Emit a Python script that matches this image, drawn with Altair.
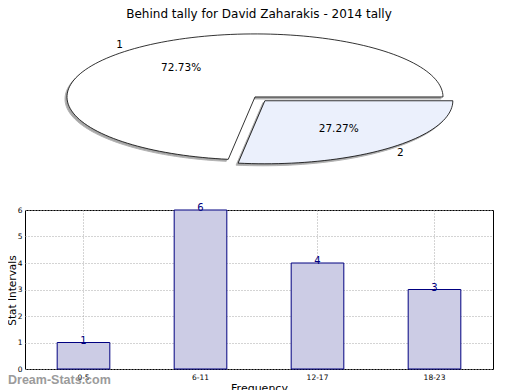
import math
import altair as alt
import pandas as pd
import numpy as np

# ---------------- data ----------------
chart_title = "Behind tally for David Zaharakis - 2014 tally"

pie_labels = ["1", "2"]
pie_values = [8, 3]
pie_fills = ["#ffffff", "#ebf0fc"]
pie_explode = [0.0, 0.08]

bar_categories = ["0-5", "6-11", "12-17", "18-23"]
bar_values = [1, 6, 4, 3]
y_ticks = [0, 1, 2, 3, 4, 5, 6]

watermark = "Dream-Stats.com"

# ---------------- pie geometry (unit ellipse, drawn through scales) ----------------
total = float(sum(pie_values))
poly_rows, text_rows = [], []
start = 0.0
for lab, val, ex in zip(pie_labels, pie_values, pie_explode):
    sweep = 360.0 * val / total
    mid = math.radians(start + sweep / 2.0)
    ox, oy = ex * math.cos(mid), ex * math.sin(mid)
    n = max(int(sweep / 2), 6)
    angles = np.radians(np.linspace(start, start + sweep, n))
    pts = [(0.0, 0.0)] + [(math.cos(t), math.sin(t)) for t in angles] + [(0.0, 0.0)]
    for k, (px, py) in enumerate(pts):
        poly_rows.append({"slice": lab, "k": k, "x": px + ox, "y": py + oy,
                          "sx": px + ox - 2.0 / 188, "sy": py + oy - 2.0 / 63})
    text_rows.append({"slice": lab, "pct": f"{100 * val / total:.2f}%",
                      "px": ox + 0.6 * math.cos(mid), "py": oy + 0.6 * math.sin(mid),
                      "lx": ox + 1.1 * math.cos(mid), "ly": oy + 1.1 * math.sin(mid)})
    start += sweep

poly_df = pd.DataFrame(poly_rows)
text_df = pd.DataFrame(text_rows)
bar_df = pd.DataFrame({"cat": bar_categories, "val": bar_values})

FONT = "DejaVu Sans"
xs = alt.Scale(domain=[-1.2234, 1.266], nice=False, zero=False)
ys = alt.Scale(domain=[-4.317, -1.794], nice=False, zero=False)

base_pie = alt.Chart(poly_df)
shadow = base_pie.mark_line(fill="#8a8a8a", stroke="#9a9a9a", strokeWidth=1, opacity=0.75).encode(
    x=alt.X("sx:Q", scale=xs, axis=None),
    y=alt.Y("sy:Q", scale=ys, axis=None),
    detail="slice:N",
    order="k:Q",
)
slices = []
for lab, col in zip(pie_labels, pie_fills):
    slices.append(
        base_pie.transform_filter(alt.datum.slice == lab).mark_line(
            fill=col, stroke="black", strokeWidth=0.8, strokeJoin="miter"
        ).encode(
            x=alt.X("x:Q", scale=xs, axis=None),
            y=alt.Y("y:Q", scale=ys, axis=None),
            order="k:Q",
        )
    )
pct_text = alt.Chart(text_df).mark_text(font=FONT, fontSize=10.5, color="black").encode(
    x=alt.X("px:Q", scale=xs, axis=None),
    y=alt.Y("py:Q", scale=ys, axis=None),
    text="pct:N",
)
lab_text = alt.Chart(text_df).mark_text(font=FONT, fontSize=10.5, color="black").encode(
    x=alt.X("lx:Q", scale=xs, axis=None),
    y=alt.Y("ly:Q", scale=ys, axis=None),
    text="slice:N",
)
pie = alt.layer(shadow, *slices, pct_text, lab_text)

# ---------------- bar chart ----------------
x_axis = alt.Axis(orient="bottom", title="Frequency", labelAngle=0, labelFontSize=7.5,
                  labelFont=FONT, labelColor="black", ticks=False, labelPadding=4,
                  titleFont=FONT, titleFontSize=11, titleFontWeight="normal",
                  titleColor="black", titlePadding=2, domain=False,
                  grid=True, gridDash=[1, 2], gridColor="#a8a8a8", gridWidth=1)
y_axis = alt.Axis(orient="left", title="Stat Intervals", values=y_ticks,
                  labelOverlap=False, labelFontSize=7.5, labelFont=FONT,
                  labelColor="black", ticks=False, labelPadding=3,
                  titleFont=FONT, titleFontSize=10.5, titleFontWeight="normal",
                  titleColor="black", titleX=-10, titleY=80, titleAngle=270,
                  titleAlign="center", titleBaseline="alphabetic",
                  domain=False, grid=True, gridDash=[1, 2], gridColor="#a8a8a8",
                  gridWidth=1)
xb = alt.X("cat:N", sort=bar_categories,
           scale=alt.Scale(paddingInner=0, paddingOuter=0), axis=x_axis)
yb = alt.Y("val:Q", scale=alt.Scale(domain=[0, 6], nice=False), axis=y_axis)

bars = alt.Chart(bar_df).mark_bar(
    width=alt.RelativeBandSize(0.45), fill="#ccccE5", stroke="#000080", strokeWidth=1
).encode(x=xb, y=yb)
bar_text = alt.Chart(bar_df).mark_text(
    font=FONT, fontSize=10, color="#000080", baseline="alphabetic", dy=1
).encode(x=xb, y=yb, text="val:Q")
wm = alt.Chart(pd.DataFrame({"t": [watermark]})).mark_text(
    font="Liberation Sans", fontSize=12.5, fontWeight="bold", color="#9b9b9b",
    align="left", baseline="alphabetic"
).encode(x=alt.value(-17), y=alt.value(174), text="t:N")
title_mark = alt.Chart(pd.DataFrame({"t": [chart_title]})).mark_text(
    font=FONT, fontSize=12, color="black", align="center", baseline="alphabetic"
).encode(x=alt.value(234), y=alt.value(-192), text="t:N")

barchart = alt.layer(bars, bar_text, wm, title_mark)

chart = alt.layer(barchart, pie).resolve_scale(x="independent", y="independent").properties(
    width=468,
    height=159,
    autosize="none",
    padding={"left": 17, "top": 202, "right": 19, "bottom": 22},
).configure_view(stroke="black", strokeWidth=1)

chart.save("out.html", embed_options={"renderer": "svg", "actions": False})
